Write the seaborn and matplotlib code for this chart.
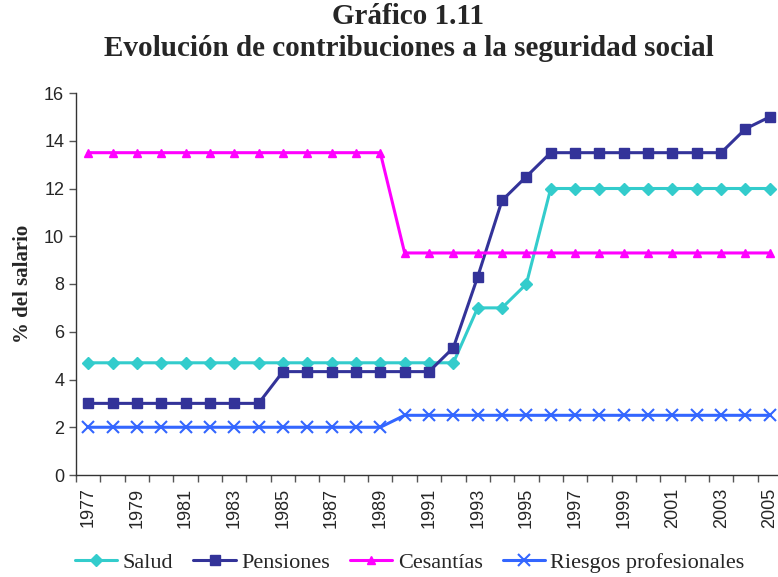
import numpy as np
import pandas as pd
import matplotlib
matplotlib.use("Agg")
import matplotlib.pyplot as plt
import seaborn as sns

# Data (% of salary)
years = list(range(1977, 2006))
salud = [4.7] * 16 + [7.0, 7.0, 8.0] + [12.0] * 10
pensiones = [3.0] * 8 + [4.33] * 7 + [5.33, 8.3, 11.5, 12.5] + [13.5] * 8 + [14.5, 15.0]
cesantias = [13.5] * 13 + [9.3] * 16
riesgos = [2.0] * 13 + [2.5] * 16

series_names = ["Salud", "Pensiones", "Cesantías", "Riesgos profesionales"]
series_values = [salud, pensiones, cesantias, riesgos]

sns.set_style("white")
plt.rcParams['font.family'] = ['Liberation Sans', 'DejaVu Sans']

fig = plt.figure(figsize=(7.78, 5.77), dpi=100)
ax = fig.add_axes([76 / 778, 1 - 475 / 577, 706 / 778, 382 / 577])

styles = {
    "Salud": dict(color="#33CCCC", marker="D", markersize=6),
    "Pensiones": dict(color="#333399", marker="s", markersize=7),
    "Cesantías": dict(color="#FF00FF", marker="^", markersize=6),
    "Riesgos profesionales": dict(color="#3366FF", marker="x", markersize=8, markeredgewidth=1.5),
}

for name, vals in zip(series_names, series_values):
    st = styles[name]
    sns.lineplot(x=years, y=vals, ax=ax, label=name, linewidth=2.2,
                 color=st["color"], marker=st["marker"], markersize=st["markersize"],
                 markeredgecolor=st["color"], markeredgewidth=st.get("markeredgewidth", 1))

ax.set_xlim(1976.5, 2005.5)
ax.set_ylim(0, 16)
ax.set_yticks(np.arange(0, 17, 2))
ax.set_xticks(years[::2])
ax.set_xticklabels([str(y) for y in years[::2]], rotation=90)
ax.set_xticks(np.arange(1976.5, 2006, 1), minor=True)
ax.tick_params(axis="x", which="major", length=0, labelsize=13, pad=9)
ax.tick_params(axis="x", which="minor", length=5, width=1, color="#555555", direction="out", bottom=True)
ax.tick_params(axis="y", length=5, width=1, color="#555555", direction="out", left=True, labelsize=13)

for s in ["top", "right"]:
    ax.spines[s].set_visible(False)
for s in ["left", "bottom"]:
    ax.spines[s].set_color("#333333")
    ax.spines[s].set_linewidth(1)

ax.set_xlabel("")
ax.set_ylabel("% del salario", fontsize=15, fontweight="bold", family="Liberation Serif", labelpad=8)

fig.text(0.525, 0.995, "Gráfico 1.11\nEvolución de contribuciones a la seguridad social",
         ha="center", va="top", fontsize=21, fontweight="bold", family="Liberation Serif",
         linespacing=1.22)

ax.legend(loc="center", bbox_to_anchor=(0.473, -0.23), ncol=4, frameon=False,
          prop={"family": "Liberation Serif", "size": 16}, handlelength=1.9,
          columnspacing=0.9, handletextpad=0.25)

fig.savefig("out.png", dpi=100)
